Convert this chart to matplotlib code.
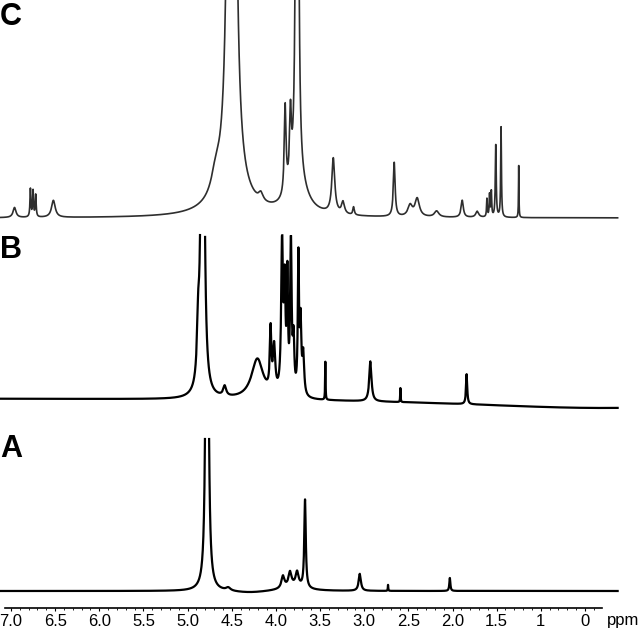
import numpy as np
import matplotlib.pyplot as plt

plt.rcParams['font.family'] = ['Liberation Sans', 'DejaVu Sans']

# peak tables: centre (ppm), height, half width (ppm)
a_ppm = [4.78, 4.54, 4.3, 3.92, 3.84, 3.76, 3.8, 3.67, 3.05, 2.73, 2.03]
a_height = [1000, 3, -2, 12, 14, 14, 5, 88, 17, 6, 13]
a_width = [0.010, 0.03, 0.25, 0.02, 0.02, 0.02, 0.15, 0.010, 0.015, 0.003, 0.007]

b_ppm = [4.83, 4.88, 4.58, 4.21, 4.06, 4.02, 3.93, 3.90, 3.87, 3.83, 3.80,
         3.745, 3.72, 3.69, 3.44, 2.93, 2.59, 1.84, 0.3]
b_height = [800, 50, 10, 40, 60, 45, 150, 100, 110, 150, 50,
            135, 70, 40, 38, 40, 14, 30, -10]
b_width = [0.014, 0.015, 0.02, 0.08, 0.01, 0.015, 0.012, 0.01, 0.008, 0.01, 0.01,
           0.008, 0.01, 0.012, 0.003, 0.015, 0.003, 0.008, 2.0]

c_ppm = [6.96, 6.78, 6.75, 6.72, 6.52, 4.50, 4.50, 4.68, 4.17, 3.76, 3.75,
         3.895, 3.835, 3.35, 3.24, 3.12, 2.66, 2.48, 2.40, 2.18, 1.89, 1.72,
         1.61, 1.58, 1.56, 1.51, 1.45, 1.25]
c_height = [10, 28, 26, 22, 17, 3000, 15, 20, 8, 2000, 30,
            88, 68, 55, 12, 8, 54, 11, 18, 6, 17, 6,
            18, 22, 25, 72, 90, 52]
c_width = [0.02, 0.006, 0.006, 0.006, 0.025, 0.019, 0.25, 0.06, 0.03, 0.008, 0.12,
           0.012, 0.012, 0.02, 0.02, 0.01, 0.012, 0.03, 0.03, 0.03, 0.015, 0.02,
           0.005, 0.005, 0.005, 0.006, 0.005, 0.003]

tick_pos = [7.0, 6.5, 6.0, 5.5, 5.0, 4.5, 4.0, 3.5, 3.0, 2.5, 2.0, 1.5, 1.0, 0.5]
tick_lab = ['7.0', '6.5', '6.0', '5.5', '5.0', '4.5', '4.0', '3.5', '3.0',
            '2.5', '2.0', '1.5', '1', '0']


def spectrum(x, centres, heights, widths):
    y = np.zeros_like(x)
    for c, h, w in zip(centres, heights, widths):
        y += h * w**2 / ((x - c)**2 + w**2)
    return y


x = np.arange(0.13, 7.12, 0.0004)

fig = plt.figure(figsize=(6.4, 6.41), dpi=100)
ax = fig.add_axes([0, 0, 1, 1])

# (peaks, baseline offset, clip height, colour, width, label y)
traces = [
    ((a_ppm, a_height, a_width), 50, 156, 'black', 1.6, 'A', 184),
    ((b_ppm, b_height, b_width), 243, 163, 'black', 1.6, 'B', 383),
    ((c_ppm, c_height, c_width), 423, 240, '#2e2e2e', 1.2, 'C', 616),
]
for peaks, off, cap, col, lw, lab, ly in traces:
    y = spectrum(x, *peaks)
    y = np.where(y > cap, np.nan, y)
    ax.plot(x, y + off, color=col, lw=lw, solid_joinstyle='round')
    ax.text(7.1246, ly, lab, fontsize=22, fontweight='bold', ha='left', va='baseline')

ax.set_xlim(7.1246, -0.1234)
ax.set_ylim(0, 641)

for s in ['top', 'left', 'right']:
    ax.spines[s].set_visible(False)
ax.spines['bottom'].set_position(('data', 33))
ax.spines['bottom'].set_bounds(7.07, 0.31)
ax.spines['bottom'].set_linewidth(1.2)

ax.set_xticks(tick_pos)
ax.set_xticklabels(tick_lab)
ax.set_xticks(np.arange(0.4, 7.05, 0.1), minor=True)
ax.tick_params(axis='x', which='major', length=2.5, width=0.8, pad=2, labelsize=12)
ax.tick_params(axis='x', which='minor', length=1.5, width=0.6)
ax.set_yticks([])
ax.text(0.25, 27.5, 'ppm', fontsize=12, ha='left', va='top')

fig.savefig('out.png', dpi=100)
